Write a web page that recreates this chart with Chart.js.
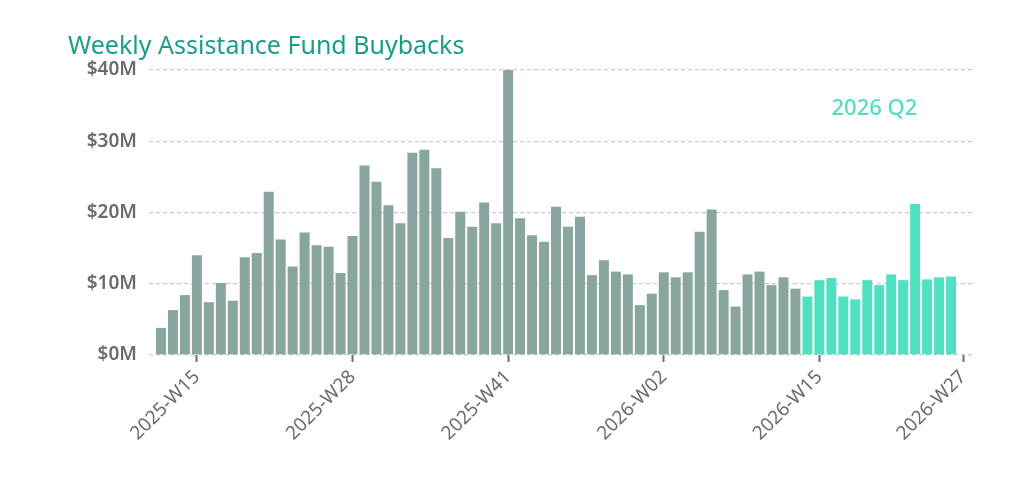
<!DOCTYPE html>
<html>
<head>
<meta charset="utf-8">
<script src="https://cdn.jsdelivr.net/npm/chart.js@4/dist/chart.umd.min.js"></script>
<style>
  html, body { margin: 0; padding: 0; background: #fff; }
  #wrap { width: 1030px; height: 486px; }
</style>
</head>
<body>
<div id="wrap"><canvas id="chart"></canvas></div>
<script>
// weekly buybacks, $M, 2025-W12 .. 2026-W26
let weeks = [];
for (let w = 12; w <= 52; w++) weeks.push('2025-W' + String(w).padStart(2, '0'));
for (let w = 1; w <= 26; w++) weeks.push('2026-W' + String(w).padStart(2, '0'));

let buybacks = [
    3.8, 6.3, 8.4, 14.0, 7.4, 10.1, 7.6, 13.7, 14.3, 22.9,
    16.2, 12.4, 17.2, 15.4, 15.2, 11.5, 16.7, 26.6, 24.3, 21.0,
    18.5, 28.4, 28.8, 26.2, 16.4, 20.1, 18.0, 21.4, 18.5, 40.0,
    19.2, 16.8, 15.9, 20.8, 18.0, 19.4, 11.2, 13.3, 11.7, 11.3,
    7.0, 8.6, 11.6, 10.9, 11.6, 17.3, 20.4, 9.1, 6.8, 11.3,
    11.7, 9.8, 10.9, 9.3, 8.2, 10.5, 10.8, 8.2, 7.8, 10.5,
    9.8, 11.3, 10.5, 21.2, 10.6, 10.9, 11.0
];

// labelled weeks on the x axis (index into the week sequence; W27 sits one past the data)
let tickWeeks = ['2025-W15', '2025-W28', '2025-W41', '2026-W02', '2026-W15', '2026-W27'];
let tickIndex = [3, 16, 29, 42, 55, 67];

let yTicks = [0, 10, 20, 30, 40];

// quarter highlight
let q2Start = '2026-W14';
let q2Label = '2026 Q2';
let q2LabelAt = {x: 59.6, y: 34.6};

const GREY = '#88a59f';
const MINT = '#4fe0c0';
const TITLE = '#1b9e86';
const TEXT = '#6b6b6b';
const FONT = "'Noto Sans', sans-serif";

let points = buybacks.map(function(v, i) { return {x: i, y: v}; });
let colors = weeks.map(function(w) { return w >= q2Start ? MINT : GREY; });

// draws the "2026 Q2" note at a data position
const quarterNote = {
    id: 'quarterNote',
    afterDraw(chart) {
        let ctx = chart.ctx;
        let x = chart.scales.x.getPixelForValue(q2LabelAt.x);
        let y = chart.scales.y.getPixelForValue(q2LabelAt.y);
        ctx.save();
        ctx.font = '500 22px ' + FONT;
        ctx.fillStyle = MINT;
        ctx.textAlign = 'center';
        ctx.textBaseline = 'middle';
        ctx.fillText(q2Label, x, y);
        ctx.restore();
    }
};

new Chart(document.getElementById('chart'), {
    type: 'bar',
    data: {
        datasets: [{
            data: points,
            backgroundColor: colors,
            borderWidth: 0,
            barPercentage: 0.835,
            categoryPercentage: 1.0,
        }]
    },
    options: {
        responsive: true,
        maintainAspectRatio: false,
        animation: false,
        events: [],
        layout: { padding: {left: 68, right: 55, top: 32, bottom: 37} },
        plugins: {
            legend: { display: false },
            tooltip: { enabled: false },
            title: {
                display: true,
                text: 'Weekly Assistance Fund Buybacks',
                align: 'start',
                color: TITLE,
                font: { family: FONT, size: 25, weight: 'normal' },
                padding: { top: 0, bottom: 8 },
            },
        },
        scales: {
            x: {
                type: 'linear',
                min: -1,
                max: 68,
                offset: false,
                afterBuildTicks: function(scale) {
                    scale.ticks = tickIndex.map(function(v) { return {value: v}; });
                },
                ticks: {
                    autoSkip: false,
                    minRotation: 45,
                    maxRotation: 45,
                    color: TEXT,
                    padding: 4,
                    font: { family: FONT, size: 19 },
                    callback: function(value) {
                        let k = tickIndex.indexOf(value);
                        return k >= 0 ? tickWeeks[k] : '';
                    },
                },
                grid: {
                    offset: false,
                    drawOnChartArea: false,
                    drawTicks: true,
                    tickLength: 7,
                    tickWidth: 2,
                    tickColor: '#6b6b6b',
                },
                border: { display: false },
            },
            y: {
                min: 0,
                max: 40,
                afterBuildTicks: function(scale) {
                    scale.ticks = yTicks.map(function(v) { return {value: v}; });
                },
                afterFit: function(scale) {
                    scale.width = 81;
                },
                ticks: {
                    color: TEXT,
                    padding: 12,
                    font: { family: FONT, size: 19, weight: '600' },
                    callback: function(value) { return '$' + value + 'M'; },
                },
                grid: {
                    color: '#c9c9ce',
                    lineWidth: 1.2,
                    drawTicks: false,
                },
                border: { display: false, dash: [4, 3] },
            },
        },
    },
    plugins: [quarterNote],
});
</script>
</body>
</html>
